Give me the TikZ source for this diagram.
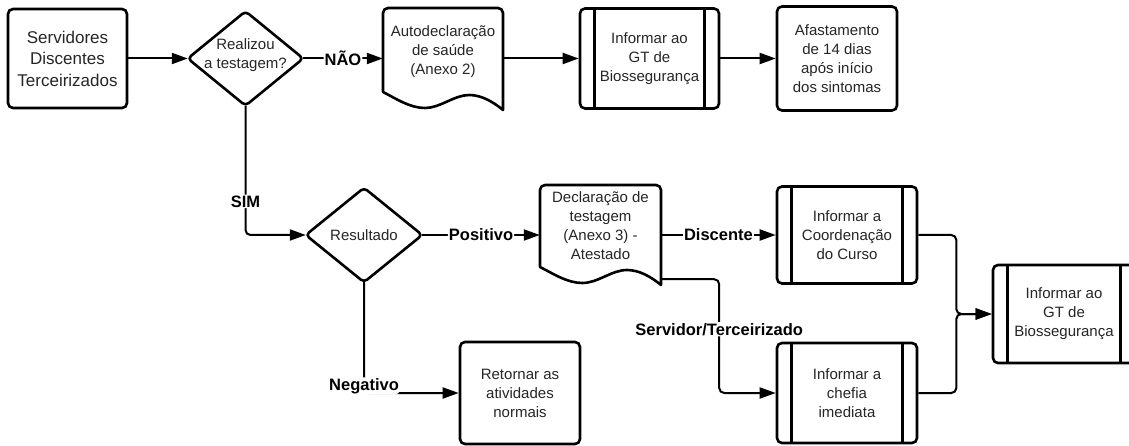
\documentclass[tikz,border=0pt]{standalone}
\usepackage{fontspec}
\setmainfont{Liberation Sans}
\usetikzlibrary{arrows.meta,calc}
% document shape: left, top, right, bottom (bottom = lowest right corner)
\newcommand\docshape[4]{%
  \draw[shp] ({#1},{#4-18}) [rounded corners=5pt] -- ({#1},{#2}) -- ({#3},{#2}) -- ({#3},{#2+30}) [sharp corners] -- ({#3},{#4})
    .. controls ({#1+0.92*(#3-#1)},{#4-8}) and ({#1+0.82*(#3-#1)},{#4-15}) .. ({#1+0.72*(#3-#1)},{#4-15})
    .. controls ({#1+0.59*(#3-#1)},{#4-15}) and ({#1+0.48*(#3-#1)},{#4-2}) .. ({#1+0.35*(#3-#1)},{#4-2})
    .. controls ({#1+0.22*(#3-#1)},{#4-2}) and ({#1+0.10*(#3-#1)},{#4-12}) .. ({#1},{#4-18}) -- cycle;}
\begin{document}
\begin{tikzpicture}[x=1pt,y=-1pt,
  shp/.style={line width=2.6pt, line join=round},
  txt/.style={inner sep=0pt, align=center, text=black!85, font=\fontsize{15}{19}\selectfont},
  boxnode/.style={txt, draw, line width=2.6pt, rounded corners=5pt, fill=white},
  procnode/.style={boxnode, path picture={
      \draw[line width=2.6pt] ([xshift=14.5pt]path picture bounding box.north west) -- ([xshift=14.5pt]path picture bounding box.south west);
      \draw[line width=2.6pt] ([xshift=-14.5pt]path picture bounding box.north east) -- ([xshift=-14.5pt]path picture bounding box.south east);}},
  blank/.style={txt},
  conn/.style={line width=2pt, rounded corners=5pt, -{Triangle[length=16pt,width=11pt]}},
  lbl/.style={fill=white, inner sep=1pt, text=black, font=\fontsize{16.5}{19}\selectfont\bfseries}
]
\fill[white] (0,0) rectangle (1129,446);
\useasboundingbox (0,0) rectangle (1129,446);

% shapes
\docshape{383}{8}{503}{110}
\docshape{540}{185}{661}{285}

\node[boxnode, minimum width=119pt, minimum height=99pt, font=\fontsize{17}{21.5}\selectfont] (start) at (67.5,58.5) {Servidores\\Discentes\\Terceirizados};

\node[blank, minimum width=115pt, minimum height=94pt] (d1) at (245.5,58.5) {};
\draw[shp, rounded corners=4pt] (d1.north) -- (d1.east) -- (d1.south) -- (d1.west) -- cycle;
\node[txt] (d1t) at (245.5,55) {Realizou\\a testagem?};

\node[blank, minimum width=120pt, minimum height=102pt] (doc1) at (443,58.5) {};
\node[txt] (doc1t) at (443,52) {Autodeclaração\\de saúde\\(Anexo 2)};

\node[procnode, minimum width=139pt, minimum height=100pt] (p1) at (649.5,58.5) {Informar ao\\GT de\\Biossegurança};
\node[boxnode, minimum width=120pt, minimum height=104pt] (afast) at (837,58.5) {Afastamento\\de 14 dias\\após início\\dos sintomas};

\node[blank, minimum width=116pt, minimum height=94pt] (d2) at (364,235) {Resultado};
\draw[shp, rounded corners=4pt] (d2.north) -- (d2.east) -- (d2.south) -- (d2.west) -- cycle;

\node[blank, minimum width=121pt, minimum height=100pt] (doc2) at (600.5,235) {};
\node[txt] (doc2t) at (600.5,226) {Declaração de\\testagem\\(Anexo 3) -\\Atestado};

\node[procnode, minimum width=140pt, minimum height=97pt] (p2) at (847,235) {Informar a\\Coordenação\\do Curso};
\node[procnode, minimum width=140pt, minimum height=100pt] (p3) at (847,393) {Informar a\\chefia\\imediata};
\node[boxnode, minimum width=120pt, minimum height=102pt] (ret) at (520,393) {Retornar as\\atividades\\normais};
\node[procnode, minimum width=142pt, minimum height=98pt] (p4) at (1064,314) {Informar ao\\GT de\\Biossegurança};

% connectors
\draw[conn] (start) -- (d1);
\draw[conn] (d1) -- node[lbl]{NÃO} (doc1);
\draw[conn] (doc1) -- (p1);
\draw[conn] (p1) -- (afast);
\draw[conn] (d1.south) |- node[lbl,pos=0.37]{SIM} (d2.west);
\draw[conn] (d2) -- node[lbl]{Positivo} (doc2);
\draw[conn] (doc2) -- node[lbl]{Discente} (p2);
\coordinate (s1) at ($(doc2.south east)+(0,-6)$);
\draw[conn] (s1) -- ++(58,0) |- node[lbl,pos=0.22]{Servidor/Terceirizado} (p3.west);
\draw[conn] (d2.south) |- node[lbl,pos=0.5,yshift=7pt]{Negativo} (ret.west);
\draw[conn] (p2.east) -- ++(38,0) |- (p4.west);
\draw[conn] (p3.east) -- ++(38,0) |- (p4.west);
\end{tikzpicture}
\end{document}
